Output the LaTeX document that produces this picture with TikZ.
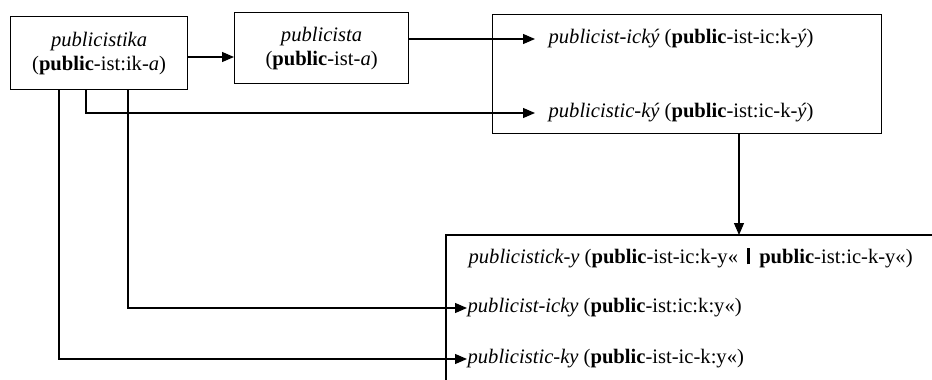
\documentclass[tikz,border=0pt]{standalone}
\usepackage{fontspec}
\setmainfont{Liberation Serif}
\usetikzlibrary{arrows.meta,calc}
\begin{document}
\begin{tikzpicture}[x=1pt,y=-1pt, line width=1.2pt,
  font=\fontsize{20.6}{24}\selectfont,
  box/.style={draw, inner sep=0pt, anchor=north west},
  arr/.style={-{Triangle[length=12pt,width=10pt]}},
  lbl/.style={anchor=west, inner sep=0pt}]
\useasboundingbox (0,0) rectangle (932,380);
% boxes
\node[box, minimum width=177pt, minimum height=73pt, align=center] (b1) at (10,16)
  {\textit{publicistika}\\(\textbf{public}-ist:ik-\textit{a})};
\node[box, minimum width=174pt, minimum height=71pt, align=center] (b2) at (234,12)
  {\textit{publicista}\\(\textbf{public}-ist-\textit{a})};
\node[box, minimum width=389pt, minimum height=119pt] (b3) at (492,14) {};
\coordinate (b4) at (446,235);
\draw (932,235) -- (b4) -- (446,380);
% texts
\node[lbl] (t31) at (548,39) {\textit{publicist-ický} (\textbf{public}-ist-ic:k-\textit{ý})};
\node[lbl] (t32) at (548,113) {\textit{publicistic-ký} (\textbf{public}-ist:ic-k-\textit{ý})};
\node[lbl] (t41) at (468,258) {\textit{publicistick-y} (\textbf{public}-ist-ic:k-y«\hspace{9pt}\rule[-1pt]{3.2pt}{16pt}\hspace{9pt}\textbf{public}-ist:ic-k-y«)};
\node[lbl] (t42) at (467,308) {\textit{publicist-icky} (\textbf{public}-ist:ic:k:y«)};
\node[lbl] (t43) at (467,359) {\textit{publicistic-ky} (\textbf{public}-ist-ic-k:y«)};
% connector anchors
\coordinate (a12) at (187,57);
\coordinate (s1) at (59,89);
\coordinate (s2) at (86,89);
\coordinate (s3) at (128,89);
\coordinate (d3) at (739,133);
\coordinate (d4) at (739,235);
% connectors
\draw[arr] (a12) -- (a12 -| b2.west);
\draw[arr, shorten >=13pt] (t31 -| b2.east) -- (t31.west);
\draw[arr, shorten >=13pt] (s2) |- (t32.west);
\draw[arr] (d3) -- (d4);
\draw[arr] (s3) |- (t42.west);
\draw[arr] (s1) |- (t43.west);
\end{tikzpicture}
\end{document}
